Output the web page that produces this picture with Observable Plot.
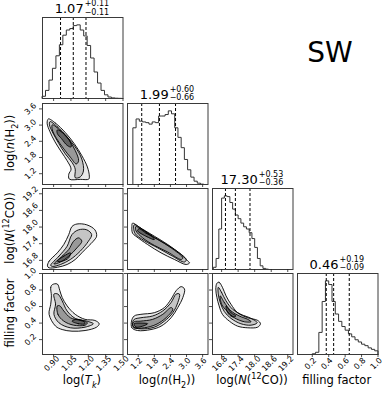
<!DOCTYPE html>
<html><head><meta charset="utf-8">
<script src="https://cdn.jsdelivr.net/npm/d3@7"></script>
<script src="https://cdn.jsdelivr.net/npm/@observablehq/plot@0.6"></script>
<style>
body{margin:0;background:#fff;}
#fig{position:relative;width:389px;height:395px;font-family:"DejaVu Sans",sans-serif;color:#000;overflow:hidden;background:#fff}
.panel{position:absolute}
.lbl{position:absolute;font-size:11.5px;white-space:nowrap;line-height:1}
.lbl sub,.lbl sup{font-size:0.7em;line-height:0}
.ttl{position:absolute;white-space:nowrap;display:flex;align-items:center;justify-content:center;line-height:1}
.ttl .num{font-size:13px;}
.ttl .ss{display:inline-flex;flex-direction:column;font-size:8px;line-height:8.5px;margin-left:1px}
.sw{position:absolute;font-size:28px;line-height:1}
</style></head>
<body><div id="fig"></div>
<script>
// ---------- data ----------
const paramNames = ["logTk", "lognH2", "logNCO", "fillingFactor"];
const medians = [1.07, 1.99, 17.30, 0.46];
const plusErr = [0.11, 0.60, 0.53, 0.19];
const minusErr = [0.11, 0.66, 0.36, 0.09];
const medianText = ["1.07", "1.99", "17.30", "0.46"];
const plusText = ["+0.11", "+0.60", "+0.53", "+0.19"];
const minusText = ["−0.11", "−0.66", "−0.36", "−0.09"];

const domainTk = [0.804, 1.50];
const domainNH2 = [0.80, 3.80];
const domainNCO = [16.47, 19.39];
const domainFF = [0.02, 1.0];

const ticksTk = [0.90, 1.05, 1.20, 1.35, 1.50];
const ticksNH2 = [1.2, 1.8, 2.4, 3.0, 3.6];
const ticksNCO = [16.8, 17.4, 18.0, 18.6, 19.2];
const ticksFF = [0.2, 0.4, 0.6, 0.8, 1.0];
const tickLabelsTk = ["0.90", "1.05", "1.20", "1.35", "1.50"];
const tickLabelsNH2 = ["1.2", "1.8", "2.4", "3.0", "3.6"];
const tickLabelsNCO = ["16.8", "17.4", "18.0", "18.6", "19.2"];
const tickLabelsFF = ["0.2", "0.4", "0.6", "0.8", "1.0"];

// 1D histograms (relative counts, step outline)
const histTkStart = 0.80, histTkWidth = 0.03;
const histTk = [0.03,0.11,0.25,0.41,0.58,0.73,0.86,0.93,0.95,0.99,1.0,0.93,0.85,0.72,0.55,0.36,0.21,0.11,0.05,0.02,0.008,0.004,0.002];
const histNH2Start = 1.00, histNH2Width = 0.12;
const histNH2 = [0.77,0.89,0.86,0.85,0.84,0.82,0.85,0.84,0.93,0.93,0.95,1.0,0.96,0.77,0.64,0.50,0.34,0.20,0.10,0.045,0.018,0.005];
const histNCOStart = 16.5, histNCOWidth = 0.1;
const histNCO = [0.03,0.15,0.55,0.97,1.0,0.99,0.91,0.82,0.74,0.69,0.63,0.58,0.55,0.50,0.42,0.30,0.15,0.05,0.015,0.005];
const histFFStart = 0.20, histFFWidth = 0.04;
const histFF = [0.01,0.03,0.30,0.72,1.0,0.95,0.72,0.55,0.45,0.38,0.33,0.28,0.24,0.20,0.17,0.14,0.12,0.09,0.07,0.05];

// 2D contours (outer 2σ, 1.5σ, 1σ, 0.5σ) as [x, y] vertices
const contourTkNH2 = [
 [[0.855,3.23],[0.917,3.07],[1.002,2.72],[1.079,2.31],[1.144,1.87],[1.192,1.45],[1.209,1.11],[1.204,1.0],[1.130,0.99],[1.036,1.0],[1.031,1.18],[1.051,1.37],[1.017,1.68],[0.968,2.00],[0.912,2.38],[0.869,2.75],[0.844,3.07]],
 [[0.869,3.13],[0.932,2.94],[1.017,2.56],[1.087,2.19],[1.144,1.74],[1.158,1.30],[1.130,1.08],[1.087,1.05],[1.087,1.37],[1.059,1.62],[1.002,1.93],[0.946,2.31],[0.889,2.75],[0.864,3.01]],
 [[0.889,3.01],[0.960,2.79],[1.031,2.46],[1.087,2.06],[1.116,1.68],[1.096,1.56],[1.045,1.81],[0.988,2.12],[0.926,2.50],[0.889,2.82]],
 [[0.932,2.82],[0.988,2.69],[1.045,2.38],[1.051,2.19],[1.017,2.25],[0.968,2.50],[0.932,2.69]]
];
const contourTkNCO = [
 [[0.847,16.59],[0.861,16.77],[0.932,17.07],[0.988,17.37],[1.031,17.73],[1.059,18.02],[1.102,18.11],[1.187,18.08],[1.257,17.90],[1.272,17.67],[1.243,17.49],[1.201,17.31],[1.144,17.07],[1.087,16.83],[1.017,16.65],[0.932,16.55],[0.861,16.53]],
 [[0.875,16.62],[0.946,16.95],[1.017,17.31],[1.059,17.73],[1.116,17.90],[1.187,17.90],[1.229,17.73],[1.201,17.49],[1.130,17.13],[1.045,16.83],[0.960,16.65],[0.889,16.58]],
 [[0.903,16.67],[0.974,16.95],[1.031,17.19],[1.073,17.49],[1.116,17.61],[1.144,17.49],[1.102,17.25],[1.031,16.95],[0.960,16.74]],
 [[0.932,16.77],[0.988,16.95],[1.045,17.07],[1.031,16.89],[0.974,16.77]]
];
const contourTkFF = [
 [[0.889,0.865],[0.875,0.833],[0.881,0.730],[0.875,0.628],[0.861,0.506],[0.917,0.363],[0.974,0.322],[1.059,0.302],[1.172,0.310],[1.272,0.351],[1.294,0.392],[1.257,0.432],[1.172,0.445],[1.087,0.506],[1.017,0.608],[0.974,0.710],[0.954,0.792],[0.932,0.873]],
 [[0.903,0.751],[0.917,0.628],[0.903,0.506],[0.946,0.404],[1.045,0.343],[1.172,0.351],[1.243,0.392],[1.187,0.424],[1.087,0.457],[1.017,0.547],[0.974,0.669],[0.937,0.751]],
 [[0.932,0.608],[0.937,0.506],[0.988,0.424],[1.073,0.375],[1.172,0.375],[1.192,0.404],[1.130,0.432],[1.045,0.465],[0.988,0.547],[0.954,0.608]],
 [[1.059,0.424],[1.116,0.392],[1.172,0.392],[1.158,0.424],[1.102,0.445]]
];
const contourNH2NCO = [
 [[0.988,18.14],[1.30,17.96],[1.80,17.67],[2.30,17.37],[2.80,17.01],[3.05,16.77],[3.113,16.71],[2.988,16.65],[2.55,16.83],[2.05,17.07],[1.55,17.37],[1.113,17.67],[0.988,17.78],[0.963,18.02]],
 [[1.05,18.08],[1.55,17.78],[2.05,17.49],[2.55,17.19],[2.988,16.83],[2.925,16.74],[2.425,16.98],[1.925,17.25],[1.425,17.51],[1.075,17.78]],
 [[1.113,18.02],[1.488,17.78],[1.925,17.55],[2.425,17.25],[2.863,16.89],[2.80,16.83],[2.30,17.10],[1.80,17.34],[1.363,17.61],[1.113,17.87]],
 [[1.238,17.94],[1.675,17.70],[1.80,17.55],[1.425,17.70],[1.175,17.87]]
];
const contourNH2FF = [
 [[0.95,0.424],[0.963,0.343],[1.175,0.310],[1.675,0.322],[2.05,0.363],[2.425,0.465],[2.675,0.588],[2.863,0.710],[2.925,0.812],[2.80,0.841],[2.613,0.792],[2.425,0.690],[2.175,0.588],[1.80,0.526],[1.30,0.506],[1.05,0.486]],
 [[0.988,0.404],[1.025,0.351],[1.30,0.330],[1.80,0.351],[2.175,0.424],[2.488,0.526],[2.675,0.649],[2.738,0.751],[2.613,0.751],[2.425,0.649],[2.113,0.547],[1.738,0.486],[1.30,0.465],[1.05,0.445]],
 [[0.988,0.383],[1.05,0.343],[1.425,0.343],[1.863,0.383],[2.238,0.465],[2.488,0.567],[2.425,0.588],[2.113,0.506],[1.738,0.445],[1.30,0.424],[1.05,0.416]],
 [[1.05,0.392],[1.113,0.351],[1.363,0.363],[1.55,0.392],[1.30,0.400]]
];
const contourNCOFF = [
 [[16.63,0.882],[16.71,0.894],[16.83,0.833],[16.96,0.730],[17.14,0.628],[17.38,0.526],[17.75,0.465],[18.11,0.432],[18.21,0.392],[18.11,0.351],[17.75,0.343],[17.38,0.363],[17.08,0.424],[16.83,0.506],[16.71,0.608],[16.63,0.710],[16.59,0.812]],
 [[16.68,0.833],[16.80,0.771],[16.96,0.669],[17.20,0.567],[17.50,0.506],[17.87,0.457],[18.09,0.404],[17.87,0.375],[17.50,0.392],[17.14,0.457],[16.90,0.539],[16.75,0.649],[16.68,0.751]],
 [[16.75,0.730],[16.90,0.649],[17.14,0.547],[17.44,0.486],[17.75,0.445],[17.87,0.416],[17.63,0.416],[17.26,0.465],[16.99,0.547],[16.80,0.628]],
 [[16.96,0.608],[17.14,0.526],[17.32,0.486],[17.20,0.474],[17.02,0.526]]
];

// ---------- layout ----------
const W = 80.5, H = 81;
const colLeft = [41.7, 126.7, 211.7, 296.5];
const rowTop = [17, 102.5, 187.5, 272.5];
const levelOpacity = [0.09, 0.15, 0.22, 0.35];

const domains = [domainTk, domainNH2, domainNCO, domainFF];
const ticks = [ticksTk, ticksNH2, ticksNCO, ticksFF];
const tickLabels = [tickLabelsTk, tickLabelsNH2, tickLabelsNCO, tickLabelsFF];
const hists = [
  [histTkStart, histTkWidth, histTk],
  [histNH2Start, histNH2Width, histNH2],
  [histNCOStart, histNCOWidth, histNCO],
  [histFFStart, histFFWidth, histFF]
];
const contours = {"1,0": contourTkNH2, "2,0": contourTkNCO, "3,0": contourTkFF,
                  "2,1": contourNH2NCO, "3,1": contourNH2FF, "3,2": contourNCOFF};

const fig = document.getElementById("fig");

function stepTable(start, width, counts) {
  const pts = [{x: start, y: 0}];
  counts.forEach((c, i) => pts.push({x: start + i * width, y: c}));
  const end = start + counts.length * width;
  pts.push({x: end, y: counts[counts.length - 1]});
  pts.push({x: end, y: 0});
  return pts;
}

function place(svg, row, col) {
  svg.classList.add("panel");
  svg.style.left = colLeft[col] + "px";
  svg.style.top = rowTop[row] + "px";
  fig.appendChild(svg);
}

function commonMarks(row, col, isHist) {
  const m = [];
  m.push(Plot.frame({stroke: "#3a3a3a", strokeWidth: 1}));
  m.push(Plot.axisX({ticks: ticks[col], tickSize: 3, tickFormat: () => "", label: null, stroke: "#222", strokeWidth: 0.8}));
  if (!isHist) m.push(Plot.axisY({ticks: ticks[row], tickSize: 3, tickFormat: () => "", label: null, stroke: "#222", strokeWidth: 0.8}));
  if (row === 3) {
    m.push(Plot.text(ticks[col], {x: d => d, text: (d, i) => tickLabels[col][i], frameAnchor: "bottom", dy: 11, rotate: -45, textAnchor: "middle", fontSize: 8, fill: "#000"}));
  }
  if (!isHist && col === 0) {
    m.push(Plot.text(ticks[row], {y: d => d, text: (d, i) => tickLabels[row][i], frameAnchor: "left", dx: -12, rotate: -45, textAnchor: "middle", fontSize: 8, fill: "#000"}));
  }
  return m;
}

const plotStyle = {overflow: "visible", background: "transparent", fontFamily: "DejaVu Sans, sans-serif", color: "#000"};

for (let i = 0; i < 4; i++) {
  const [s, w, c] = hists[i];
  const q = [medians[i] - minusErr[i], medians[i], medians[i] + plusErr[i]];
  const svg = Plot.plot({
    width: W, height: H, margin: 0,
    x: {domain: domains[i], axis: null},
    y: {domain: [0, 1.1], axis: null},
    style: plotStyle,
    marks: [
      Plot.line(stepTable(s, w, c), {x: "x", y: "y", curve: "step-after", stroke: "#333", strokeWidth: 1}),
      Plot.ruleX(q, {stroke: "#000", strokeWidth: 1, strokeDasharray: "3,2"}),
      ...commonMarks(i, i, true)
    ]
  });
  place(svg, i, i);

  const t = document.createElement("div");
  t.className = "ttl";
  t.style.left = colLeft[i] + "px";
  t.style.width = W + "px";
  t.style.top = (rowTop[i] - 17) + "px";
  t.innerHTML = `<span class="num">${medianText[i]}</span><span class="ss"><span>${plusText[i]}</span><span>${minusText[i]}</span></span>`;
  fig.appendChild(t);
}

for (const key of Object.keys(contours)) {
  const [row, col] = key.split(",").map(Number);
  const levels = contours[key];
  const marks = levels.map((poly, li) => Plot.line(poly, {
    x: d => d[0], y: d => d[1], curve: "catmull-rom-closed",
    fill: "#000", fillOpacity: levelOpacity[li], stroke: "#000", strokeWidth: 0.9
  }));
  const svg = Plot.plot({
    width: W, height: H, margin: 0,
    x: {domain: domains[col], axis: null},
    y: {domain: domains[row], axis: null},
    style: plotStyle,
    marks: [...marks, ...commonMarks(row, col, false)]
  });
  place(svg, row, col);
}

// axis titles
const bottomTitles = ["log(<i>T</i><sub><i>k</i></sub>)", "log(<i>n</i>(H<sub>2</sub>))", "log(<i>N</i>(<sup>12</sup>CO))", "filling factor"];
bottomTitles.forEach((html, i) => {
  const d = document.createElement("div");
  d.className = "lbl";
  d.innerHTML = html;
  d.style.left = (colLeft[i] + W / 2) + "px";
  d.style.top = "381px";
  d.style.transform = "translate(-50%,-50%)";
  fig.appendChild(d);
});
const leftTitles = [null, "log(<i>n</i>(H<sub>2</sub>))", "log(<i>N</i>(<sup>12</sup>CO))", "filling factor"];
leftTitles.forEach((html, i) => {
  if (!html) return;
  const d = document.createElement("div");
  d.className = "lbl";
  d.innerHTML = html;
  d.style.left = "11px";
  d.style.top = (rowTop[i] + H / 2) + "px";
  d.style.transform = "translate(-50%,-50%) rotate(-90deg)";
  fig.appendChild(d);
});

const sw = document.createElement("div");
sw.className = "sw";
sw.textContent = "SW";
sw.style.left = "330px";
sw.style.top = "53px";
sw.style.transform = "translate(-50%,-50%)";
fig.appendChild(sw);
</script>
</body></html>
